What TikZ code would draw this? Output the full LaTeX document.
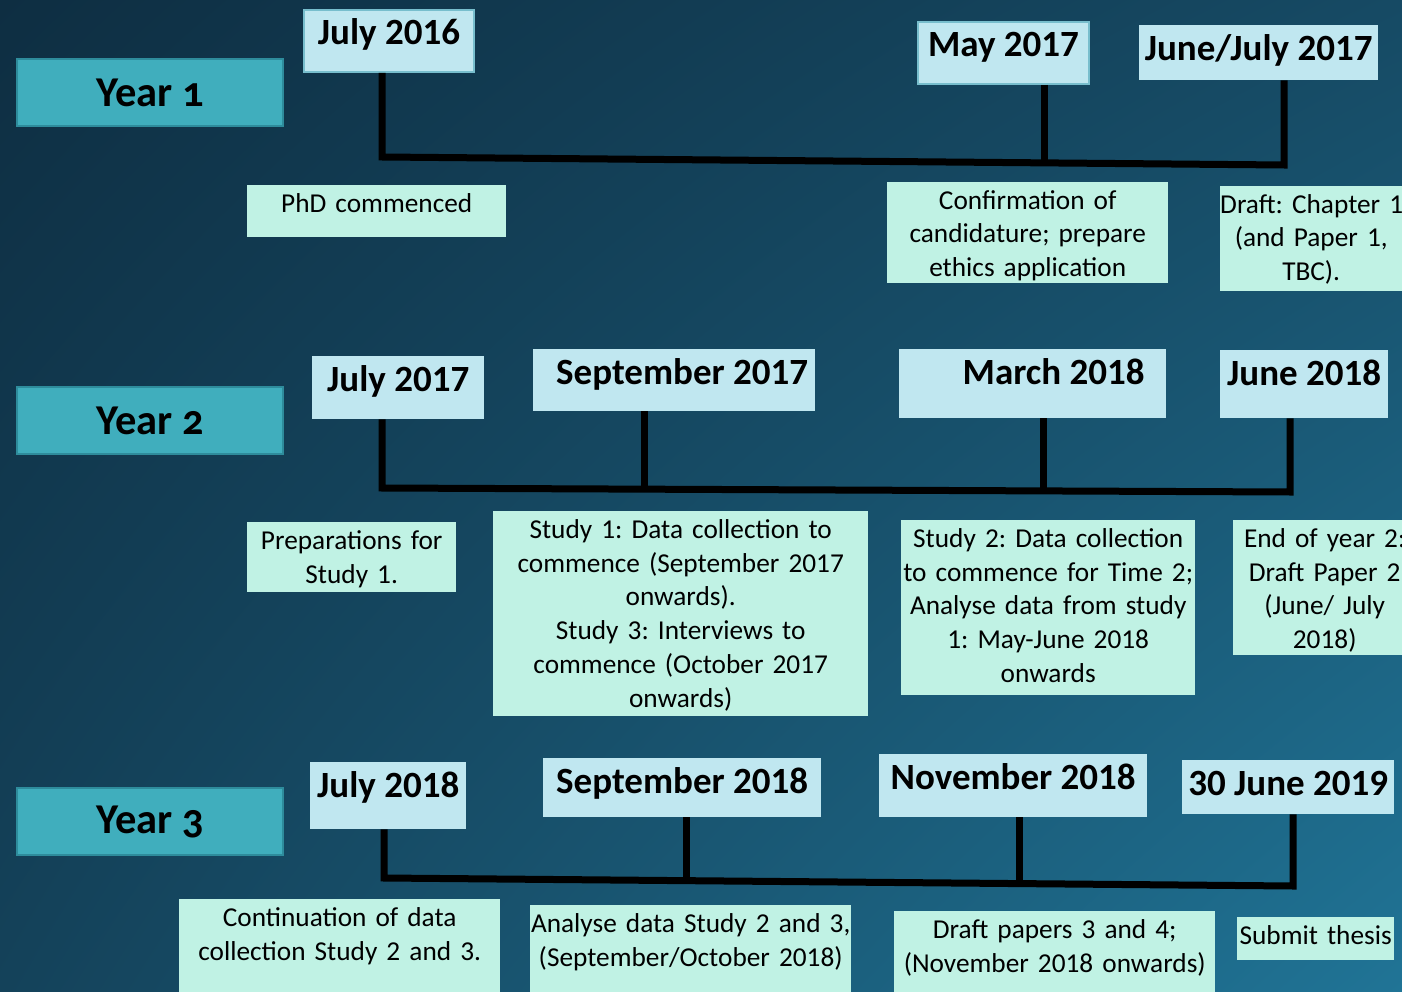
\documentclass[tikz,border=0pt]{standalone}
\usepackage{fontspec}
\setmainfont{Carlito}
\newfontfamily\yearfamily[Numbers=OldStyle]{Carlito}
\usetikzlibrary{calc,shadings}

\definecolor{bgul}{RGB}{14,46,66}
\definecolor{bgur}{RGB}{22,74,100}
\definecolor{bgll}{RGB}{20,66,90}
\definecolor{bglr}{RGB}{32,116,150}
\definecolor{yearfill}{RGB}{64,174,189}
\definecolor{yearedge}{RGB}{46,140,156}
\definecolor{datefill}{RGB}{192,231,240}
\definecolor{dateedge}{RGB}{120,190,205}
\definecolor{descfill}{RGB}{192,242,228}

\tikzset{
  yearbox/.style={draw=yearedge, line width=2pt, fill=yearfill, anchor=north west,
    minimum width=266pt, minimum height=67pt, inner sep=0pt,
    font=\yearfamily\bfseries\fontsize{42.5}{50}\selectfont},
  datebox/.style={fill=datefill, anchor=north west, inner sep=0pt, text height=35pt,
    font=\bfseries\fontsize{37}{44}\selectfont},
  descbox/.style={fill=descfill, anchor=north west, inner sep=0pt, align=center,
    text height=27pt, font=\frenchspacing\fontsize{27.3}{33.8}\selectfont},
  bar/.style={line width=7pt, black, line join=miter},
}

\begin{document}
\begin{tikzpicture}[x=1pt,y=-1pt]
  \useasboundingbox (0,0) rectangle (1402,992);
  \clip (0,0) rectangle (1402,992);
  \shade[upper left=bgul, upper right=bgur, lower left=bgll, lower right=bglr]
    (0,0) rectangle (1402,992);
  % Year 1
  \node[yearbox] (year1) at (16,58) {Year 1};
  \node[datebox, draw=dateedge, line width=2pt, minimum width=170pt, text depth=27pt] (jul16) at (303,9) {July 2016};
  \node[datebox, draw=dateedge, line width=2pt, minimum width=171pt, text depth=27pt] (may17) at (917,21) {May 2017};
  \node[datebox, minimum width=239pt, text depth=20pt] (junjul17) at (1139,25) {June/July 2017};
  \node[descbox, text width=259pt, text depth=25pt] (phd) at (247,185) {PhD commenced};
  \node[descbox, text width=281pt, text depth=74pt] (confirm) at (887,182)
    {Confirmation of\\candidature; prepare\\ethics application};
  \node[descbox, text width=182pt, text depth=78pt] (chap1) at (1220,186)
    {\mbox{Draft: Chapter 1}\\(and Paper 1,\\TBC).};
  \coordinate (r1a) at (382,157);
  \coordinate (r1b) at (1284,165);
  \coordinate (r1m) at (1044,161);
  \draw[bar] (jul16.south -| r1a) -- (r1a) -- (r1b) -- (r1b |- junjul17.south);
  \draw[bar] (r1m |- may17.south) -- (r1m);
  % Year 2
  \node[yearbox] (year2) at (16,386) {Year 2};
  \node[datebox, minimum width=172pt, text depth=28pt] (jul17) at (312,356) {July 2017};
  \node[datebox, minimum width=282pt, text depth=27pt] (sep17) at (533,349) {\hspace*{16pt}September 2017};
  \node[datebox, minimum width=267pt, text depth=34pt] (mar18) at (899,349) {\hspace*{42pt}March 2018};
  \node[datebox, minimum width=168pt, text depth=33pt] (jun18) at (1220,350) {June 2018};
  \node[descbox, text width=209pt, text depth=43pt] (prep) at (247,522)
    {Preparations for\\Study 1.};
  \node[descbox, text width=375pt, text depth=178pt] (study1) at (493,511)
    {Study 1: Data collection to\\commence (September 2017\\onwards).\\Study 3: Interviews to\\commence (October 2017\\onwards)};
  \node[descbox, text width=294pt, text depth=148pt] (study2) at (901,520)
    {Study 2: Data collection\\\mbox{to commence for Time 2;}\\Analyse data from study\\1: May-June 2018\\onwards};
  \node[descbox, text width=183pt, text depth=108pt] (endyr2) at (1233,520)
    {End of year 2:\\Draft Paper 2\\(June/ July\\2018)};
  \coordinate (r2a) at (382,488);
  \coordinate (r2b) at (1290,492);
  \coordinate (r2s) at (644,489);
  \coordinate (r2m) at (1043,490);
  \draw[bar] (jul17.south -| r2a) -- (r2a) -- (r2b) -- (r2b |- jun18.south);
  \draw[bar] (r2s |- sep17.south) -- (r2s);
  \draw[bar] (r2m |- mar18.south) -- (r2m);
  % Year 3
  \node[yearbox] (year3) at (16,787) {Year 3};
  \node[datebox, minimum width=156pt, text depth=32pt] (jul18) at (310,762) {July 2018};
  \node[datebox, minimum width=278pt, text depth=24pt] (sep18) at (543,758) {September 2018};
  \node[datebox, minimum width=268pt, text depth=28pt] (nov18) at (879,754) {November 2018};
  \node[datebox, minimum width=212pt, text depth=19pt] (jun19) at (1182,760) {30 June 2019};
  \node[descbox, text width=321pt, text depth=66pt] (contin) at (179,899)
    {Continuation of data\\collection Study 2 and 3.};
  \node[descbox, text width=321pt, text depth=60pt] (analyse) at (530,905)
    {\mbox{Analyse data Study 2 and 3,}\\(September/October 2018)};
  \node[descbox, text width=321pt, text depth=54pt] (papers) at (894,911)
    {Draft papers 3 and 4;\\(November 2018 onwards)};
  \node[descbox, text width=157pt, text depth=16pt] (submit) at (1237,917) {\mbox{Submit thesis}};
  \coordinate (r3a) at (384,878);
  \coordinate (r3b) at (1293,886);
  \coordinate (r3s) at (686,880);
  \coordinate (r3m) at (1019,883);
  \draw[bar] (jul18.south -| r3a) -- (r3a) -- (r3b) -- (r3b |- jun19.south);
  \draw[bar] (r3s |- sep18.south) -- (r3s);
  \draw[bar] (r3m |- nov18.south) -- (r3m);
\end{tikzpicture}
\end{document}
